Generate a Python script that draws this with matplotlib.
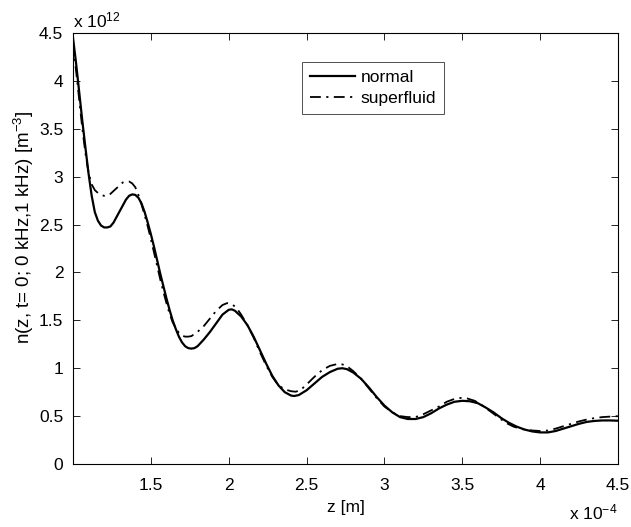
import numpy as np
import matplotlib
matplotlib.use("Agg")
import matplotlib.pyplot as plt

# --- Data (z in units of 1e-4 m, n in units of 1e12 m^-3) ---
z_normal = [1.00, 1.02, 1.04, 1.06, 1.08, 1.10, 1.12, 1.14, 1.16, 1.18,
            1.20, 1.22, 1.24, 1.26, 1.28, 1.30, 1.32, 1.34, 1.36, 1.38,
            1.40, 1.42, 1.44, 1.46, 1.48, 1.50, 1.52, 1.54, 1.56, 1.58,
            1.60, 1.62, 1.64, 1.66, 1.68, 1.70, 1.72, 1.74, 1.76, 1.78,
            1.80, 1.84, 1.88, 1.92, 1.96, 2.00, 2.02, 2.04, 2.08, 2.12,
            2.16, 2.20, 2.24, 2.28, 2.32, 2.36, 2.40, 2.42, 2.45, 2.50,
            2.55, 2.60, 2.65, 2.70, 2.73, 2.76, 2.80, 2.85, 2.90, 2.95,
            3.00, 3.05, 3.10, 3.15, 3.20, 3.25, 3.30, 3.35, 3.40, 3.45,
            3.50, 3.55, 3.60, 3.65, 3.70, 3.75, 3.80, 3.85, 3.90, 3.95,
            4.00, 4.05, 4.10, 4.15, 4.20, 4.25, 4.30, 4.35, 4.40, 4.45, 4.50]
n_normal = [4.45, 4.18, 3.88, 3.58, 3.30, 3.03, 2.80, 2.63, 2.54, 2.49,
            2.47, 2.47, 2.48, 2.52, 2.58, 2.64, 2.70, 2.76, 2.80, 2.815,
            2.81, 2.78, 2.72, 2.63, 2.52, 2.40, 2.27, 2.13, 1.99, 1.86,
            1.73, 1.61, 1.50, 1.41, 1.33, 1.27, 1.23, 1.21, 1.205, 1.21,
            1.23, 1.30, 1.38, 1.47, 1.56, 1.61, 1.615, 1.60, 1.54, 1.45,
            1.33, 1.19, 1.05, 0.92, 0.82, 0.75, 0.715, 0.71, 0.72, 0.77,
            0.84, 0.91, 0.96, 0.995, 1.00, 0.99, 0.955, 0.89, 0.80, 0.70,
            0.61, 0.54, 0.49, 0.47, 0.47, 0.49, 0.53, 0.58, 0.62, 0.65,
            0.66, 0.655, 0.635, 0.59, 0.54, 0.48, 0.43, 0.39, 0.36, 0.34,
            0.33, 0.33, 0.345, 0.37, 0.395, 0.42, 0.44, 0.45, 0.455, 0.455, 0.452]

z_super = [1.00, 1.02, 1.04, 1.06, 1.08, 1.10, 1.12, 1.14, 1.16, 1.18,
           1.20, 1.22, 1.24, 1.26, 1.28, 1.30, 1.32, 1.34, 1.36, 1.38,
           1.40, 1.42, 1.44, 1.46, 1.48, 1.50, 1.52, 1.54, 1.56, 1.58,
           1.60, 1.62, 1.64, 1.66, 1.68, 1.70, 1.72, 1.74, 1.76, 1.80,
           1.84, 1.88, 1.92, 1.96, 1.99, 2.02, 2.05, 2.08, 2.12, 2.16,
           2.20, 2.24, 2.28, 2.32, 2.36, 2.40, 2.43, 2.46, 2.50, 2.55,
           2.60, 2.65, 2.70, 2.73, 2.76, 2.80, 2.85, 2.90, 2.95, 3.00,
           3.05, 3.10, 3.15, 3.20, 3.25, 3.30, 3.35, 3.40, 3.45, 3.49,
           3.53, 3.58, 3.63, 3.68, 3.73, 3.78, 3.83, 3.88, 3.95, 4.00,
           4.05, 4.10, 4.15, 4.20, 4.25, 4.30, 4.35, 4.40, 4.45, 4.50]
n_super = [4.40, 4.10, 3.80, 3.50, 3.24, 3.04, 2.92, 2.86, 2.83, 2.81,
           2.80, 2.80, 2.82, 2.85, 2.88, 2.91, 2.94, 2.95, 2.95, 2.93,
           2.89, 2.81, 2.71, 2.60, 2.48, 2.35, 2.21, 2.07, 1.93, 1.80,
           1.68, 1.57, 1.48, 1.42, 1.37, 1.34, 1.33, 1.33, 1.335, 1.38,
           1.44, 1.52, 1.60, 1.66, 1.68, 1.67, 1.63, 1.56, 1.45, 1.32,
           1.17, 1.03, 0.91, 0.82, 0.78, 0.76, 0.755, 0.77, 0.83, 0.91,
           0.98, 1.025, 1.045, 1.04, 1.02, 0.97, 0.89, 0.79, 0.69, 0.60,
           0.54, 0.50, 0.49, 0.49, 0.52, 0.56, 0.60, 0.65, 0.68, 0.69,
           0.685, 0.66, 0.61, 0.55, 0.49, 0.43, 0.39, 0.365, 0.35, 0.345,
           0.35, 0.37, 0.395, 0.42, 0.445, 0.465, 0.48, 0.49, 0.495, 0.50]

x_ticks = [1.5, 2, 2.5, 3, 3.5, 4, 4.5]
x_ticklabels = ["1.5", "2", "2.5", "3", "3.5", "4", "4.5"]
y_ticks = [0, 0.5, 1, 1.5, 2, 2.5, 3, 3.5, 4, 4.5]
y_ticklabels = ["0", "0.5", "1", "1.5", "2", "2.5", "3", "3.5", "4", "4.5"]

plt.rcParams['font.family'] = ['Liberation Sans', 'DejaVu Sans']
plt.rcParams['mathtext.fontset'] = 'custom'
plt.rcParams['mathtext.rm'] = 'Liberation Sans'
plt.rcParams['mathtext.it'] = 'Liberation Sans'

fig = plt.figure(figsize=(6.31, 5.27), dpi=100)
ax = fig.add_axes([0.1157, 0.1195, 0.8637, 0.8179])

ax.plot(z_normal, n_normal, color='black', lw=1.6, ls='-', label='normal')
ax.plot(z_super, n_super, color='black', lw=1.3, dashes=(6, 3, 1.2, 3),
        label='superfluid')

ax.set_xlim(1, 4.5)
ax.set_ylim(0, 4.5)
ax.set_xticks(x_ticks)
ax.set_xticklabels(x_ticklabels)
ax.set_yticks(y_ticks)
ax.set_yticklabels(y_ticklabels)
ax.tick_params(direction='in', top=True, right=True, length=5, width=0.6,
               labelsize=12.5)
ax.tick_params(axis='x', pad=10)
ax.tick_params(axis='y', pad=7)
for s in ax.spines.values():
    s.set_linewidth(0.8)

ax.set_xlabel('z [m]', fontsize=12.5)
ax.xaxis.set_label_coords(0.5, -0.083)
ax.set_ylabel(r'n(z, t= 0; 0 kHz,1 kHz) [m$^{-3}$]', fontsize=13.5)
ax.yaxis.set_label_coords(-0.068, 0.55)

# MATLAB-style exponent labels
ax.text(0.0, 1.005, r'x 10$^{12}$', transform=ax.transAxes, fontsize=12.5,
        ha='left', va='bottom')
ax.text(1.0, -0.09, r'x 10$^{-4}$', transform=ax.transAxes, fontsize=12.5,
        ha='right', va='top')

leg = ax.legend(loc='upper left', bbox_to_anchor=(0.42, 0.933), fontsize=12.5,
                frameon=True, fancybox=False, handlelength=2.6,
                borderpad=0.45, labelspacing=0.35, handletextpad=0.35,
                borderaxespad=0)
leg.get_frame().set_edgecolor('black')
leg.get_frame().set_linewidth(0.6)

fig.savefig('out.png', dpi=100)
